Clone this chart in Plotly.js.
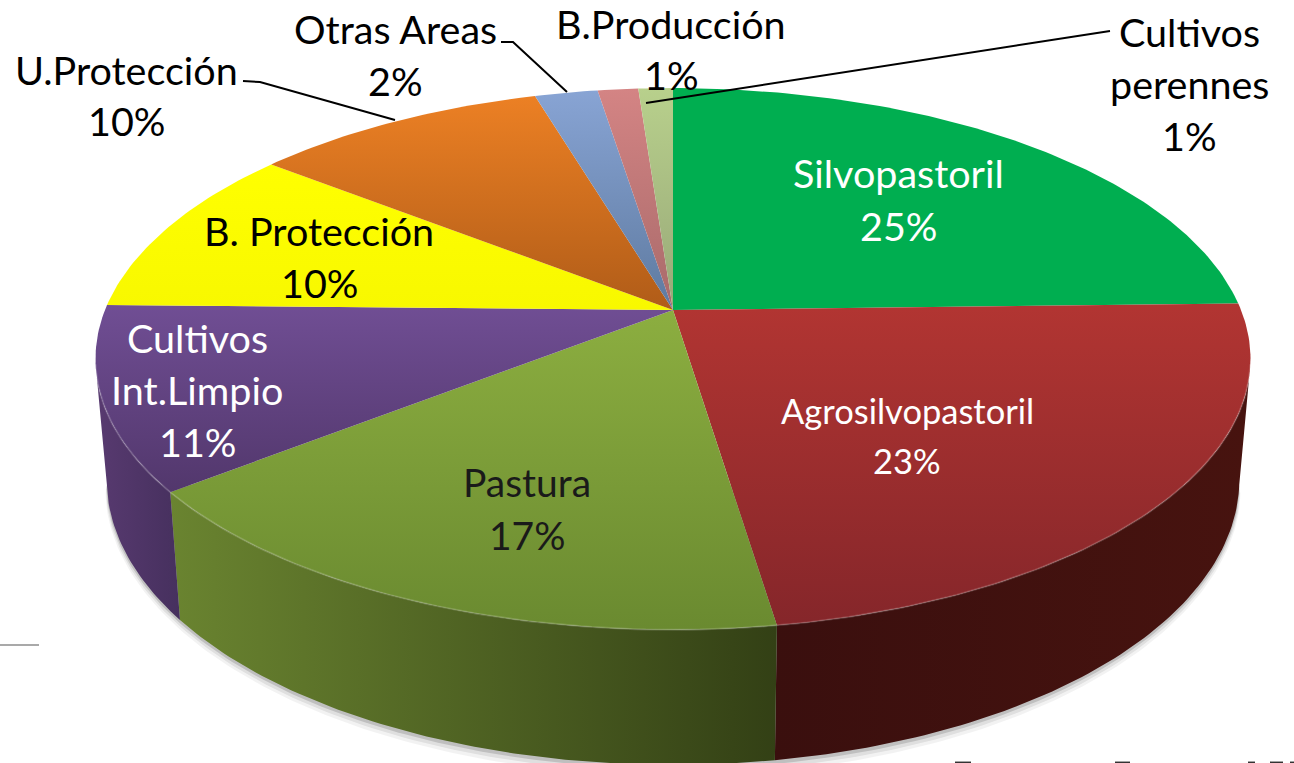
<!DOCTYPE html>
<html><head><meta charset="utf-8">
<script src="https://cdn.plot.ly/plotly-3.0.1.min.js"></script>
<style>html,body{margin:0;padding:0;background:#fff;overflow:hidden}#c{width:1294px;height:763px}text{font-variant-ligatures:none}</style>
</head><body><div id="c"></div>
<script>
// Data
const categories = ['Silvopastoril','Agrosilvopastoril','Pastura','Cultivos Int.Limpio','B. Protección','U.Protección','Otras Areas','B.Producción','Cultivos perennes'];
const values     = [24.6,23.0,16.8,10.9,10.3,9.8,2.1,1.35,1.15];
const shownPct   = ['25%','23%','17%','11%','10%','10%','2%','1%','1%'];
const labelLines = [['Silvopastoril'],['Agrosilvopastoril'],['Pastura'],['Cultivos','Int.Limpio'],['B. Protección'],['U.Protección'],['Otras Areas'],['B.Producción'],['Cultivos','perennes']];
const labelX     = [898,907,527,197,319,126,395,671,1189];
const labelY     = [172,410,482,337,230,69,28,23,31];
const lineGap    = [53,50,53,52,52,51,52,51,52];
const labelSize  = [39.5,34.5,39,39.5,39.5,39.5,39.5,39.5,39.5];
const labelColor = ['#fff','#fff','#1a1a1a','#fff','#000','#000','#000','#000','#000'];
const topColors  = [['#00AE50','#00AE50'],['#B23532','#85262A'],['#8CAE40','#6A8A30'],['#704E94','#52376C'],['#FFFF00','#F8F800'],['#EC8024','#B05C18'],['#88A4D4','#5E7AA0'],['#D48484','#A86A6A'],['#B8D08C','#98A878']];
const wallColors = [['#3A0F0E','#47130F'],['#3A0F0E','#47130F'],['#6A8430','#334015'],['#583A70','#46305E'],['#333','#333'],['#333','#333'],['#333','#333'],['#333','#333'],['#333','#333']];
const leaders = [[[243,81],[260,82],[395,120]],[[501,42],[513,42],[567,92]],[[1110,31],[646,103]]];
// tops of letters of a line cut off by the picture's bottom edge: unreadable, drawn as the dashes they appear as
const cutOffMarks = [[955,971],[1115,1130],[1248,1255],[1270,1283],[1290,1294]];

// Perspective of a tilted disc, on an axis that spans the page
const P = 0.1807, apexX = 673, apexY = 310, A = 568, B = 262;
const baseY = 428, baseA = 557, baseB = 276;
const frontStart = 0.282, frontEnd = 0.718;
function rim(turn, a, b, cy){
  const t = turn*2*Math.PI, u = Math.sin(t), v = -Math.cos(t), w = 1-P*v;
  return [apexX + a*u/w, cy + b*v/w];
}
function arc(s, e, a, b, cy){
  const n = Math.max(2, Math.ceil((e-s)*400)), o = [];
  for(let i=0;i<=n;i++) o.push(rim(s+(e-s)*i/n, a, b, cy));
  return o;
}
const total = values.reduce((p,c)=>p+c,0);
let acc = 0; const spans = values.map(v=>{const s=acc/total; acc+=v; return [s,acc/total];});

// Plotly's vertical gradient runs bottom-to-top, so the lighter colour goes last
function grad(type, c){return {type, colorscale: type==='vertical' ? [[0,c[1]],[1,c[0]]] : [[0,c[0]],[1,c[1]]]};}
const traces = [];

// soft shadow under the base, tapering to nothing at both ends
[[9,'rgba(0,0,0,0.05)'],[6,'rgba(0,0,0,0.08)'],[3,'rgba(0,0,0,0.14)']].forEach(([d,col])=>{
  const s = [], n = 200;
  for(let i=0;i<=n;i++){
    const f = Math.sqrt(Math.sin(Math.PI*i/n));
    s.push(rim(frontStart+(frontEnd-frontStart)*i/n, baseA+d*f, baseB+d*f, baseY));
  }
  traces.push({type:'scatter',mode:'lines',x:s.map(p=>p[0]),y:s.map(p=>p[1]),fill:'toself',fillcolor:col,line:{width:0},hoverinfo:'skip',showlegend:false});
});

// side walls (only the front of the disc is visible)
spans.forEach(([s,e],i)=>{
  const a0 = Math.max(s,frontStart), a1 = Math.min(e,frontEnd);
  if(a1<=a0) return;
  const t = arc(a0,a1,A,B,apexY), b = arc(a0,a1,baseA,baseB,baseY).reverse();
  const pts = t.concat(b);
  traces.push({type:'scatter',mode:'lines',name:categories[i]+' lado',x:pts.map(p=>p[0]),y:pts.map(p=>p[1]),fill:'toself',
    fillgradient:grad('horizontal',wallColors[i]),line:{width:0},hoverinfo:'skip',showlegend:false});
});

// top faces
spans.forEach(([s,e],i)=>{
  const r = arc(s,e,A,B,apexY);
  const pts = [[apexX,apexY]].concat(r,[[apexX,apexY]]);
  traces.push({type:'scatter',mode:'lines',name:categories[i],x:pts.map(p=>p[0]),y:pts.map(p=>p[1]),fill:'toself',
    fillgradient:grad('vertical',topColors[i]),line:{width:0},hoveron:'fills',text:categories[i]+' '+shownPct[i],hoverinfo:'text',showlegend:false});
});

// lighter bevel along the front rim
const bevel = arc(frontStart,frontEnd,A,B,apexY);
traces.push({type:'scatter',mode:'lines',x:bevel.map(p=>p[0]),y:bevel.map(p=>p[1]),line:{color:'rgba(255,255,255,0.16)',width:2},hoverinfo:'skip',showlegend:false});

// leader lines
leaders.forEach(l=>traces.push({type:'scatter',mode:'lines',x:l.map(p=>p[0]),y:l.map(p=>p[1]),line:{color:'#000',width:2},hoverinfo:'skip',showlegend:false}));
// stray rule at the left edge
traces.push({type:'scatter',mode:'lines',x:[0,39],y:[645,645],line:{color:'#8c8c8c',width:1.5},hoverinfo:'skip',showlegend:false});
cutOffMarks.forEach(m=>traces.push({type:'scatter',mode:'lines',x:m,y:[762.3,762.3],line:{color:'#333',width:1.5},hoverinfo:'skip',showlegend:false}));

const FONT = 'Lato, "Open Sans", sans-serif';
const annotations = [];
categories.forEach((c,i)=>{
  labelLines[i].concat(shownPct[i]).forEach((txt,k)=>{
    annotations.push({x:labelX[i],y:labelY[i]+k*lineGap[i],xref:'x',yref:'y',showarrow:false,align:'center',text:txt,
      font:{family:FONT,size:labelSize[i],color:labelColor[i]}});
  });
});

Plotly.newPlot('c',traces,{
  width:1294,height:763,margin:{l:0,r:0,t:0,b:0},paper_bgcolor:'#fff',plot_bgcolor:'#fff',showlegend:false,
  xaxis:{range:[0,1294],visible:false,fixedrange:true},
  yaxis:{range:[763,0],visible:false,fixedrange:true},
  annotations
},{displayModeBar:false,staticPlot:true});
</script></body></html>
